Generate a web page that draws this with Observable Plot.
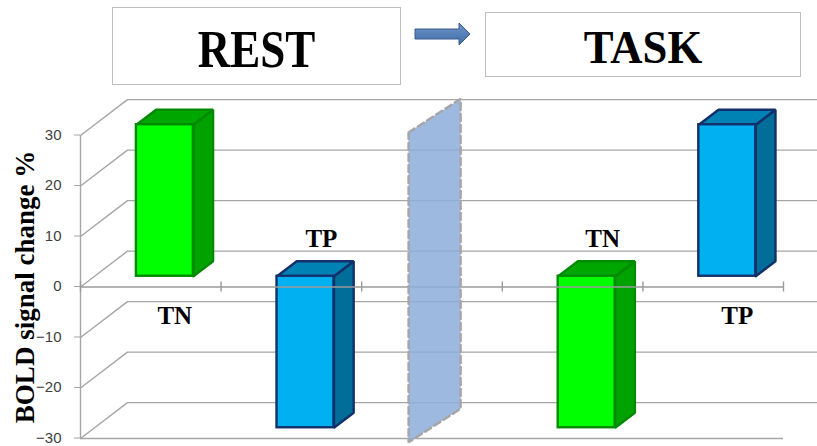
<!DOCTYPE html>
<html>
<head>
<meta charset="utf-8">
<script src="https://cdn.jsdelivr.net/npm/d3@7"></script>
<script src="https://cdn.jsdelivr.net/npm/@observablehq/plot@0.6"></script>
<style>
  html, body { margin: 0; padding: 0; background: #fff; width: 817px; height: 446px; overflow: hidden; }
  #head { position: relative; width: 817px; height: 88px; }
  .box { position: absolute; box-sizing: border-box; border: 1.5px solid #bfbfbf; background: #fff; }
  .phase { position: absolute; text-align: center; white-space: nowrap; color: #000;
           font-family: "Liberation Serif", "Times New Roman", serif; font-weight: bold; }
  .arrow { position: absolute; }
  #chart svg { display: block; }
</style>
</head>
<body>
<div id="head"></div>
<div id="chart"></div>
<script>
// Phases shown in the header, left to right
const phases = ["REST", "TASK"];

// Bars: phase, category and BOLD signal change (%)
const barPhases = ["REST", "REST", "TASK", "TASK"];
const barLabels = ["TN", "TP", "TN", "TP"];
const barValues = [30, -30, -30, 30];

// Value axis
const yTicks = [-30, -20, -10, 0, 10, 20, 30];
const yTitle = "BOLD signal change %";

// ---------- header: phase boxes joined by an arrow ----------
const head = document.getElementById("head");
const boxStyles = [
  {left: 112, top: 7, width: 289, height: 78, size: 53, squeeze: 0.85, textTop: 23},
  {left: 485, top: 12, width: 316, height: 65, size: 47, squeeze: 0.95, textTop: 24}
];
phases.forEach((name, i) => {
  const s = boxStyles[i];
  const box = document.createElement("div");
  box.className = "box";
  Object.assign(box.style, {left: s.left + "px", top: s.top + "px", width: s.width + "px", height: s.height + "px"});
  head.appendChild(box);
  const txt = document.createElement("div");
  txt.className = "phase";
  txt.textContent = name;
  Object.assign(txt.style, {
    left: s.left + "px", width: s.width + "px", top: s.textTop + "px",
    fontSize: s.size + "px", lineHeight: s.size + "px", transform: `scaleX(${s.squeeze})`
  });
  head.appendChild(txt);
});
const arrow = document.createElementNS("http://www.w3.org/2000/svg", "svg");
arrow.setAttribute("class", "arrow");
arrow.setAttribute("width", 58);
arrow.setAttribute("height", 26);
arrow.style.left = "414px";
arrow.style.top = "21px";
arrow.innerHTML = `<defs><linearGradient id="ag" x1="0" y1="0" x2="0" y2="1">
  <stop offset="0" stop-color="#6f95c9"/><stop offset="1" stop-color="#3f6ca8"/></linearGradient></defs>
  <polygon points="1,8 45,8 45,2 56,13 45,24 45,18 1,18" fill="url(#ag)" stroke="#385d8a" stroke-width="1"/>`;
head.appendChild(arrow);

// ---------- pseudo-3D chart ----------
const DX = 0.334, DY = 7.1;           // back-wall offset, in x and y units
const D0 = 0.3, D1 = 0.72;            // depth span of each bar
const HALF = 0.2025;                  // half bar width, in slot units
const slots = 5;                      // REST TN, REST TP, gap, TASK TN, TASK TP
const proj = (x, y, d) => ({x: x + d * DX, y: y + d * DY});

const palette = {
  TN: {front: "#00ff00", side: "#00a200", top: "#00a600", edge: "#008a00"},
  TP: {front: "#00b0f0", side: "#006e98", top: "#0083b4", edge: "#14306a"}
};

const bars = barLabels.map((label, i) => ({
  label, phase: barPhases[i], value: barValues[i],
  slot: i < 2 ? i : i + 1
}));

// wall gridlines: front tick -> back wall -> right
const grid = yTicks.flatMap(t =>
  [proj(0, t, 0), proj(0, t, 1), proj(slots + 0.3, t, 1)].map(p => ({...p, t}))
);

function barMarks(b) {
  const c = palette[b.label];
  const xl = b.slot + 0.5 - HALF, xr = b.slot + 0.5 + HALF;
  const top = Math.max(b.value, 0);
  const side = [proj(xr, 0, D0), proj(xr, 0, D1), proj(xr, b.value, D1), proj(xr, b.value, D0), proj(xr, 0, D0)];
  const lid = [proj(xl, top, D0), proj(xr, top, D0), proj(xr, top, D1), proj(xl, top, D1), proj(xl, top, D0)];
  const face = {strokeWidth: 2.4, strokeLinejoin: "miter", stroke: c.edge};
  return [
    Plot.line(side, {x: "x", y: "y", fill: c.side, ...face}),
    Plot.line(lid, {x: "x", y: "y", fill: c.top, ...face}),
    Plot.rect([b], {
      x1: d => proj(xl, 0, D0).x, x2: d => proj(xr, 0, D0).x,
      y1: d => proj(xl, 0, D0).y, y2: d => proj(xl, d.value, D0).y,
      fill: c.front, ...face
    })
  ];
}

// translucent divider between the two phases, standing in the gap slot
const gapSlot = 2;
const divTop = 30 * 1.02, divBottom = -30 * 1.025;
const divX = d => gapSlot + 0.5 + (d - 0.45) * 0.37;
const divDY = 6.65;
const divider = [
  {x: divX(0), y: divTop}, {x: divX(1), y: divTop + divDY},
  {x: divX(1), y: divBottom + divDY}, {x: divX(0), y: divBottom},
  {x: divX(0), y: divTop}
];

const serif = "Liberation Serif, Times New Roman, serif";
const sans = "Liberation Sans, Arial, sans-serif";

const chart = Plot.plot({
  width: 817,
  height: 358,
  marginLeft: 80,
  marginRight: 34,
  marginTop: 47,
  marginBottom: 8,
  style: {background: "transparent", overflow: "visible"},
  x: {domain: [0, slots], axis: null},
  y: {domain: [-30, 30]},
  marks: [
    Plot.line(grid, {x: "x", y: "y", z: "t", stroke: "#a6a6a6", strokeWidth: 1.4}),
    Plot.ruleX([0], {y1: -30, y2: 30, stroke: "#a6a6a6", strokeWidth: 1.4}),
    Plot.ruleY([-30], {x1: 0, x2: slots, stroke: "#a6a6a6", strokeWidth: 1.4}),
    Plot.axisY({
      ticks: yTicks, tickSize: 6, tickPadding: 13, label: null,
      stroke: "#a6a6a6", fill: "#404040", fontSize: 15, fontFamily: sans, dy: -0.5
    }),
    ...bars.flatMap(barMarks),
    Plot.ruleY([0], {x1: 0, x2: slots, stroke: "#9a9a9a", strokeWidth: 1.4}),
    Plot.ruleX(d3.range(slots + 1), {y1: -1, y2: 1, stroke: "#9a9a9a", strokeWidth: 1.4}),
    Plot.line(divider, {
      x: "x", y: "y", fill: "#8cadd9", fillOpacity: 0.85,
      stroke: "#a6a6a6", strokeWidth: 2.5, strokeDasharray: "7,4", strokeLinejoin: "miter"
    }),
    Plot.text(bars, {
      filter: d => d.value > 0, x: d => d.slot + 0.5, y: 0, text: "label",
      dx: 24, dy: 29, fontSize: 25, fontWeight: "bold", fontFamily: serif, fill: "#000"
    }),
    Plot.text(bars, {
      filter: d => d.value < 0, x: d => d.slot + 0.5, y: 0, text: "label",
      dx: 30, dy: -48, fontSize: 25, fontWeight: "bold", fontFamily: serif, fill: "#000"
    }),
    Plot.text([yTitle], {
      text: d => d, frameAnchor: "left", rotate: -90, textAnchor: "middle", lineAnchor: "bottom",
      dx: -47, fontSize: 27, fontWeight: "bold", fontFamily: serif, fill: "#000"
    })
  ]
});
document.getElementById("chart").appendChild(chart);
</script>
</body>
</html>
